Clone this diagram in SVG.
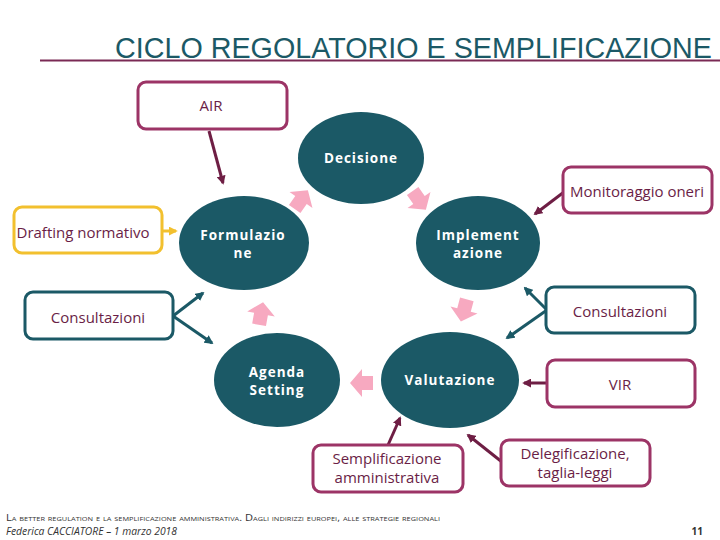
<svg xmlns="http://www.w3.org/2000/svg" width="720" height="540" viewBox="0 0 720 540">
<style>
.ell{fill:#1b5966}
.et{fill:#ffffff;font-family:"Open Sans","Noto Sans",sans-serif;font-weight:bold;font-size:13.5px;letter-spacing:1px;text-anchor:middle}
.bm{fill:#ffffff;stroke:#9c3466;stroke-width:3}
.bt{fill:#ffffff;stroke:#1b5966;stroke-width:3}
.by{fill:#ffffff;stroke:#f2c02e;stroke-width:3}
.lt{fill:#6a1e46;font-family:"Open Sans","Noto Sans",sans-serif;font-size:15px;text-anchor:middle}
.cm{stroke:#6e1e44;stroke-width:3;fill:none}
.ct{stroke:#1b5966;stroke-width:3;fill:none}
.cy{stroke:#f2c02e;stroke-width:3;fill:none}
.pk{fill:#f7a9c0}
</style>
<defs>
<marker id="hm" viewBox="0 0 10 10" refX="8" refY="5" markerWidth="9" markerHeight="9" markerUnits="userSpaceOnUse" orient="auto"><path d="M0,0 L10,5 L0,10 z" fill="#6e1e44"/></marker>
<marker id="ht" viewBox="0 0 10 10" refX="8" refY="5" markerWidth="9" markerHeight="9" markerUnits="userSpaceOnUse" orient="auto"><path d="M0,0 L10,5 L0,10 z" fill="#1b5966"/></marker>
<marker id="hy" viewBox="0 0 10 10" refX="8" refY="5" markerWidth="9" markerHeight="9" markerUnits="userSpaceOnUse" orient="auto"><path d="M0,0 L10,5 L0,10 z" fill="#f2c02e"/></marker>
<polygon id="pa" class="pk" points="-11,-7 0,-7 0,-14 12,0 0,14 0,7 -11,7"/>
</defs>

<g id="title">
<text x="115" y="58" font-family="'Liberation Sans',Arial,sans-serif" font-size="29" fill="#1b5966" textLength="597" lengthAdjust="spacingAndGlyphs">CICLO REGOLATORIO E SEMPLIFICAZIONE</text>
<line x1="40" y1="60.5" x2="720" y2="60.5" stroke="#7a2a55" stroke-width="2"/>
</g>

<g id="connectors">
<line class="cm" x1="209" y1="131" x2="223" y2="183" marker-end="url(#hm)"/>
<line class="cy" x1="163" y1="231" x2="176" y2="231" marker-end="url(#hy)"/>
<line class="cm" x1="564" y1="192" x2="535" y2="214" marker-end="url(#hm)"/>
<line class="ct" x1="173" y1="316" x2="203" y2="293" marker-end="url(#ht)"/>
<line class="ct" x1="173" y1="316" x2="212" y2="343" marker-end="url(#ht)"/>
<line class="ct" x1="547" y1="310" x2="525" y2="288" marker-end="url(#ht)"/>
<line class="ct" x1="547" y1="310" x2="507" y2="338" marker-end="url(#ht)"/>
<line class="cm" x1="547" y1="383" x2="524" y2="383" marker-end="url(#hm)"/>
<line class="cm" x1="502" y1="462" x2="468" y2="435" marker-end="url(#hm)"/>
<line class="cm" x1="388" y1="445" x2="400" y2="418" marker-end="url(#hm)"/>
<use href="#pa" transform="translate(301,200) rotate(-55)"/>
<use href="#pa" transform="translate(419,200) rotate(55)"/>
<use href="#pa" transform="translate(464,310) rotate(105)"/>
<use href="#pa" transform="translate(362,383) rotate(180)"/>
<use href="#pa" transform="translate(261,314) rotate(-80)"/>
</g>

<g id="decisione"><ellipse class="ell" cx="361" cy="158" rx="63" ry="46"/><text class="et" x="361" y="163">Decisione</text></g>
<g id="formulazione"><ellipse class="ell" cx="244" cy="243" rx="65" ry="47"/><text class="et" x="243" y="240">Formulazio</text><text class="et" x="243" y="258">ne</text></g>
<g id="implementazione"><ellipse class="ell" cx="478" cy="243" rx="62" ry="47"/><text class="et" x="478" y="240">Implement</text><text class="et" x="478" y="258">azione</text></g>
<g id="agenda"><ellipse class="ell" cx="277" cy="380" rx="63" ry="47"/><text class="et" x="277" y="377">Agenda</text><text class="et" x="277" y="395">Setting</text></g>
<g id="valutazione"><ellipse class="ell" cx="450" cy="380" rx="69" ry="48"/><text class="et" x="450" y="385">Valutazione</text></g>

<g id="air"><rect class="bm" x="138" y="82" width="149" height="47" rx="8"/><text class="lt" x="211" y="111">AIR</text></g>
<g id="drafting"><rect class="by" x="14" y="207" width="148" height="46" rx="8"/><text class="lt" x="83" y="238">Drafting normativo</text></g>
<g id="monitoraggio"><rect class="bm" x="563" y="167" width="149" height="46" rx="8"/><text class="lt" x="637" y="197">Monitoraggio oneri</text></g>
<g id="consultazioni-sx"><rect class="bt" x="25" y="292" width="148" height="47" rx="8"/><text class="lt" x="98" y="323">Consultazioni</text></g>
<g id="consultazioni-dx"><rect class="bt" x="546" y="287" width="149" height="46" rx="8"/><text class="lt" x="620" y="317">Consultazioni</text></g>
<g id="vir"><rect class="bm" x="547" y="360" width="148" height="47" rx="8"/><text class="lt" x="620" y="390">VIR</text></g>
<g id="semplificazione"><rect class="bm" x="313" y="445" width="150" height="47" rx="8"/><text class="lt" x="387" y="464">Semplificazione</text><text class="lt" x="387" y="483">amministrativa</text></g>
<g id="delegificazione"><rect class="bm" x="501" y="440" width="149" height="46" rx="8"/><text class="lt" x="575" y="459">Delegificazione,</text><text class="lt" x="575" y="478">taglia-leggi</text></g>

<g id="footer" font-family="'Open Sans','Noto Sans',sans-serif" fill="#333333">
<text x="6" y="521" font-size="9" font-variant="small-caps" textLength="434" lengthAdjust="spacingAndGlyphs">La better regulation e la semplificazione amministrativa. Dagli indirizzi europei, alle strategie regionali</text>
<text x="6" y="535" font-size="10" font-style="italic" textLength="171" lengthAdjust="spacingAndGlyphs">Federica CACCIATORE – 1 marzo 2018</text>
<text x="703" y="535" font-size="10" font-weight="bold" text-anchor="end">11</text>
</g>
</svg>
